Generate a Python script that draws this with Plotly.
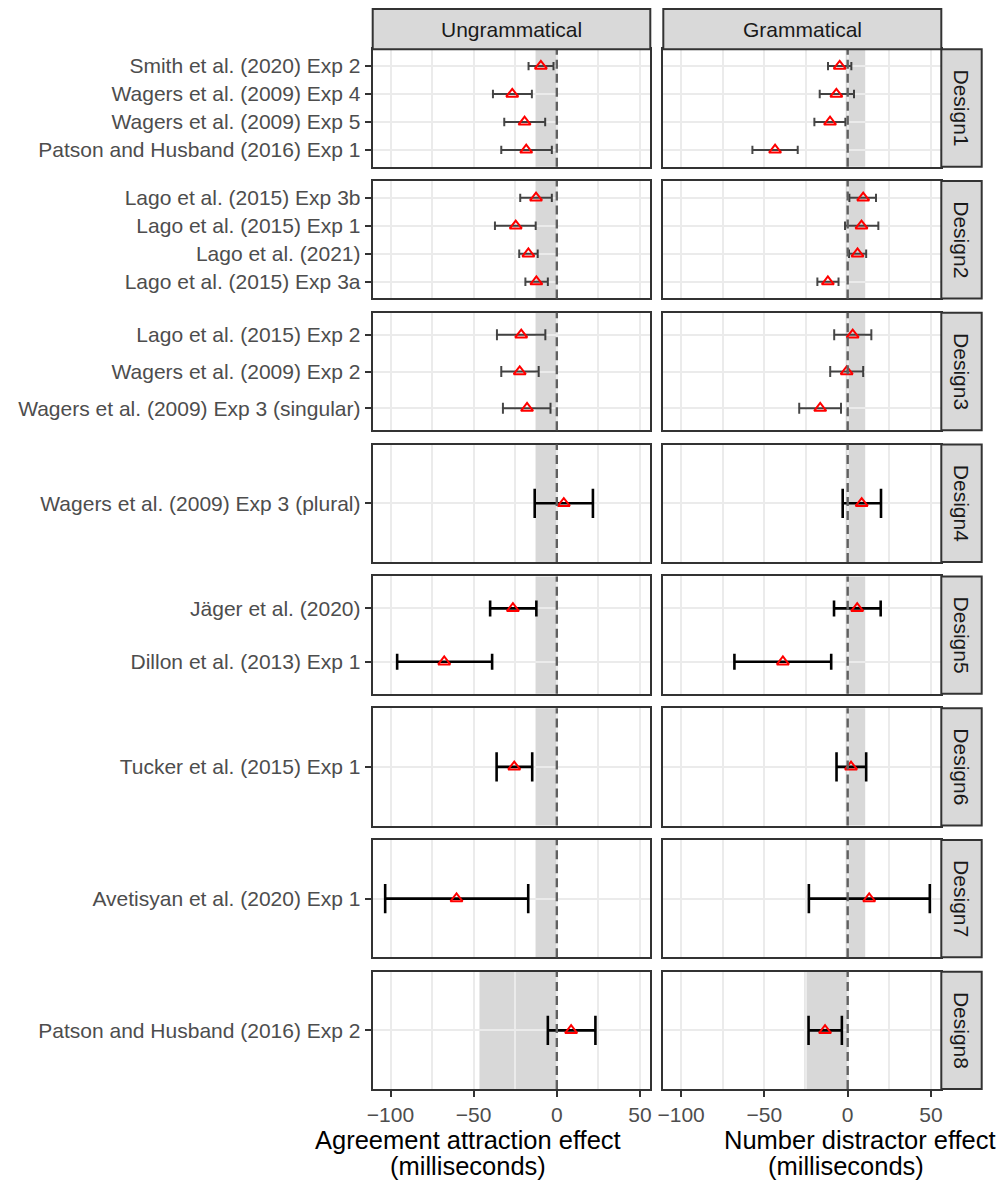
import plotly.graph_objects as go

# ---- data -------------------------------------------------------------
designs = ["Design1", "Design2", "Design3", "Design4",
           "Design5", "Design6", "Design7", "Design8"]
columns = ["Ungrammatical", "Grammatical"]

studies = [
    ["Smith et al. (2020) Exp 2", "Wagers et al. (2009) Exp 4",
     "Wagers et al. (2009) Exp 5", "Patson and Husband (2016) Exp 1"],
    ["Lago et al. (2015) Exp 3b", "Lago et al. (2015) Exp 1",
     "Lago et al. (2021)", "Lago et al. (2015) Exp 3a"],
    ["Lago et al. (2015) Exp 2", "Wagers et al. (2009) Exp 2",
     "Wagers et al. (2009) Exp 3 (singular)"],
    ["Wagers et al. (2009) Exp 3 (plural)"],
    ["Jäger et al. (2020)", "Dillon et al. (2013) Exp 1"],
    ["Tucker et al. (2015) Exp 1"],
    ["Avetisyan et al. (2020) Exp 1"],
    ["Patson and Husband (2016) Exp 2"],
]

# agreement attraction effect (ungrammatical), ms
ungram_mean = [[-9.6, -26.8, -19.4, -18.4], [-12.5, -24.7, -17.1, -12.3],
               [-21.4, -22.3, -17.9], [4.2], [-26.4, -67.7], [-25.6], [-60.3], [8.6]]
ungram_lower = [[-17.0, -38.4, -31.6, -33.4], [-22.0, -37.2, -22.6, -18.9],
                [-36.0, -33.4, -32.4], [-13.3], [-40.1, -96.0], [-36.2], [-103.2], [-5.4]]
ungram_upper = [[-2.0, -15.0, -7.0, -3.0], [-3.0, -12.7, -11.5, -5.4],
                [-6.9, -10.9, -3.8], [21.7], [-12.3, -38.9], [-14.8], [-17.2], [23.2]]

# number distractor effect (grammatical), ms
gram_mean = [[-4.8, -6.8, -10.6, -43.6], [9.3, 8.3, 5.9, -11.9],
             [3.0, -0.6, -16.5], [8.4], [5.7, -38.9], [2.0], [12.9], [-13.6]]
gram_lower = [[-11.8, -16.8, -20.0, -57.2], [1.0, -1.6, 0.8, -18.2],
              [-8.1, -10.5, -29.1], [-3.0], [-8.2, -68.0], [-6.7], [-23.3], [-23.5]]
gram_upper = [[2.2, 3.8, -1.4, -30.0], [17.0, 18.4, 11.1, -5.5],
              [14.2, 9.3, -4.0], [20.0], [19.8, -9.9], [11.1], [49.3], [-3.5]]

# shaded reference intervals per design (lower, upper)
ungram_band = [(-12.8, 0)] * 7 + [(-46.5, 0)]
gram_band = [(-1.2, 10.5)] * 7 + [(-26.0, 0)]

x_ticks = [-100, -50, 0, 50]
x_minor = [-75, -25, 25]
x_range = [-110.7, 56.2]

# ---- layout geometry (pixels) ----------------------------------------
W, H = 1000, 1182
PANEL_X = [(372.7, 650.3), (663.3, 941.3)]
STRIP_X = (941.3, 981.7)
TOP_STRIP_Y = (9.0, 49.3)
ROW_TOP0, ROW_PITCH, ROW_H = 49.3, 131.77, 117.4

BORDER = "#333333"
GRID = "#EBEBEB"
STRIP_FILL = "#D9D9D9"
FONT = "Liberation Sans, Arial, sans-serif"


def fx(px):
    return px / W


def fy(py):
    return 1 - py / H


fig = go.Figure()
shapes = []
annotations = []
layout_axes = {}

series = [
    (ungram_mean, ungram_lower, ungram_upper, ungram_band),
    (gram_mean, gram_lower, gram_upper, gram_band),
]

for r, design in enumerate(designs):
    cats = studies[r]
    n = len(cats)
    top = ROW_TOP0 + r * ROW_PITCH
    bot = top + ROW_H
    px_per_cat = ROW_H / (n + 0.2)
    cap_half = 0.15 * px_per_cat
    light = r < 3
    bar_color = "rgba(0,0,0,0.72)" if light else "#000000"
    bar_thick = 2.0 if light else 2.6

    for c in range(2):
        k = r * 2 + c + 1
        xname = "x" if k == 1 else f"x{k}"
        yname = "y" if k == 1 else f"y{k}"
        mean, lower, upper, band = series[c]
        m, lo, hi = mean[r], lower[r], upper[r]

        fig.add_trace(go.Scatter(
            x=m, y=cats, mode="markers", xaxis=xname, yaxis=yname,
            showlegend=False, hoverinfo="skip",
            error_x=dict(type="data", symmetric=False,
                         array=[h - v for h, v in zip(hi, m)],
                         arrayminus=[v - l for v, l in zip(m, lo)],
                         color=bar_color, thickness=bar_thick, width=cap_half),
            marker=dict(symbol="triangle-up-open", size=10.5, color="red",
                        line=dict(color="red", width=2)),
        ))

        bottom_row = r == len(designs) - 1
        layout_axes[f"xaxis{'' if k == 1 else k}"] = dict(
            domain=[fx(PANEL_X[c][0]), fx(PANEL_X[c][1])],
            anchor=yname, range=x_range, zeroline=False, automargin=False,
            tickvals=x_ticks, showticklabels=bottom_row,
            ticks="outside" if bottom_row else "", ticklen=6, tickwidth=2,
            tickcolor=BORDER,
            tickfont=dict(family=FONT, size=21, color="#4D4D4D"),
            showgrid=True, gridcolor=GRID, gridwidth=2.4,
            minor=dict(tickvals=x_minor, showgrid=True, gridcolor=GRID,
                       gridwidth=1.6, ticks=""),
            showline=True, mirror=True, linecolor=BORDER, linewidth=2,
        )
        layout_axes[f"yaxis{'' if k == 1 else k}"] = dict(
            domain=[fy(bot), fy(top)], anchor=xname, automargin=False,
            type="category", categoryorder="array", categoryarray=cats,
            range=[n - 1 + 0.6, -0.6],
            showticklabels=(c == 0), ticks="outside" if c == 0 else "",
            ticklen=6, tickwidth=2, tickcolor=BORDER,
            tickfont=dict(family=FONT, size=21, color="#4D4D4D"),
            showgrid=True, gridcolor=GRID, gridwidth=2.4, zeroline=False,
            showline=True, mirror=True, linecolor=BORDER, linewidth=2,
        )

        # shaded interval and dashed zero reference
        shapes.append(dict(type="rect", xref=xname, yref=f"{yname} domain",
                           x0=band[r][0], x1=band[r][1], y0=0, y1=1,
                           fillcolor="rgba(127,127,127,0.3)",
                           line=dict(width=0), layer="below"))
        shapes.append(dict(type="line", xref=xname, yref=f"{yname} domain",
                           x0=0, x1=0, y0=0, y1=1,
                           line=dict(color="#606060", width=2.4, dash="9px,5px"),
                           layer="above"))

    # facet strip on the right of each row
    shapes.append(dict(type="rect", xref="paper", yref="paper",
                       x0=fx(STRIP_X[0]), x1=fx(STRIP_X[1]),
                       y0=fy(bot), y1=fy(top),
                       fillcolor=STRIP_FILL, line=dict(color=BORDER, width=2),
                       layer="above"))
    annotations.append(dict(xref="paper", yref="paper",
                            x=fx((STRIP_X[0] + STRIP_X[1]) / 2),
                            y=fy((top + bot) / 2), text=design, textangle=90,
                            showarrow=False, xanchor="center", yanchor="middle",
                            font=dict(family=FONT, size=21, color="#1A1A1A")))

# facet strips across the top
for c, label in enumerate(columns):
    shapes.append(dict(type="rect", xref="paper", yref="paper",
                       x0=fx(PANEL_X[c][0]), x1=fx(PANEL_X[c][1]),
                       y0=fy(TOP_STRIP_Y[1]), y1=fy(TOP_STRIP_Y[0]),
                       fillcolor=STRIP_FILL, line=dict(color=BORDER, width=2),
                       layer="above"))
    annotations.append(dict(xref="paper", yref="paper",
                            x=fx((PANEL_X[c][0] + PANEL_X[c][1]) / 2),
                            y=fy((TOP_STRIP_Y[0] + TOP_STRIP_Y[1]) / 2),
                            text=label, showarrow=False,
                            xanchor="center", yanchor="middle",
                            font=dict(family=FONT, size=21, color="#1A1A1A")))

# x axis titles
titles = [
    ("Agreement attraction effect", 468, 1139.5),
    ("(milliseconds)", 468, 1166),
    ("Number distractor effect", 860, 1139.5),
    ("(milliseconds)", 846, 1166),
]
for text, cx, cy in titles:
    annotations.append(dict(xref="paper", yref="paper", x=fx(cx), y=fy(cy),
                            text=text, showarrow=False,
                            xanchor="center", yanchor="middle",
                            font=dict(family=FONT, size=25.5, color="#000000")))

fig.update_layout(
    width=W, height=H, autosize=False,
    margin=dict(l=0, r=0, t=0, b=0),
    paper_bgcolor="white", plot_bgcolor="white",
    shapes=shapes, annotations=annotations,
    **layout_axes,
)

fig.write_html("out.html")
